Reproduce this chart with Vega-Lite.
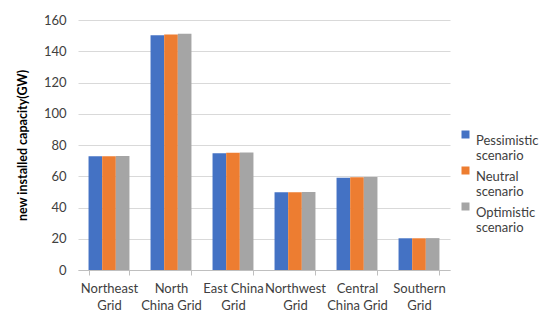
{
  "$schema": "https://vega.github.io/schema/vega-lite/v6.json",
  "autosize": "none",
  "width": 372,
  "height": 250,
  "padding": {"left": 78, "top": 20, "right": 100, "bottom": 62},
  "background": "white",
  "config": {
    "font": "Lato",
    "view": {"stroke": null}
  },
  "data": {
    "values": [
      {"grid": "Northeast Grid", "scenario": "Pessimistic scenario", "value": 72.8},
      {"grid": "Northeast Grid", "scenario": "Neutral scenario", "value": 72.8},
      {"grid": "Northeast Grid", "scenario": "Optimistic scenario", "value": 72.9},
      {"grid": "North China Grid", "scenario": "Pessimistic scenario", "value": 150.2},
      {"grid": "North China Grid", "scenario": "Neutral scenario", "value": 150.7},
      {"grid": "North China Grid", "scenario": "Optimistic scenario", "value": 151.2},
      {"grid": "East China Grid", "scenario": "Pessimistic scenario", "value": 74.7},
      {"grid": "East China Grid", "scenario": "Neutral scenario", "value": 75.1},
      {"grid": "East China Grid", "scenario": "Optimistic scenario", "value": 75.2},
      {"grid": "Northwest Grid", "scenario": "Pessimistic scenario", "value": 49.8},
      {"grid": "Northwest Grid", "scenario": "Neutral scenario", "value": 49.8},
      {"grid": "Northwest Grid", "scenario": "Optimistic scenario", "value": 49.9},
      {"grid": "Central China Grid", "scenario": "Pessimistic scenario", "value": 59.1},
      {"grid": "Central China Grid", "scenario": "Neutral scenario", "value": 59.3},
      {"grid": "Central China Grid", "scenario": "Optimistic scenario", "value": 59.6},
      {"grid": "Southern Grid", "scenario": "Pessimistic scenario", "value": 20.3},
      {"grid": "Southern Grid", "scenario": "Neutral scenario", "value": 20.3},
      {"grid": "Southern Grid", "scenario": "Optimistic scenario", "value": 20.4}
    ]
  },
  "mark": {"type": "bar"},
  "encoding": {
    "x": {
      "field": "grid",
      "type": "nominal",
      "sort": null,
      "scale": {"paddingInner": 0.34, "paddingOuter": 0.17},
      "axis": {
        "title": null,
        "labelAngle": 0,
        "labelFontSize": 13,
        "labelColor": "#404040",
        "labelPadding": 7,
        "labelLineHeight": 17,
        "labelBaseline": "top",
        "tickBand": "extent",
        "tickColor": "#bfbfbf",
        "tickSize": 5,
        "domainColor": "#bfbfbf",
        "labelExpr": "indexof(datum.label,'China Grid')>0 && indexof(datum.label,'East')<0 ? [substring(datum.label,0,indexof(datum.label,' ')), substring(datum.label,indexof(datum.label,' ')+1)] : [substring(datum.label,0,lastindexof(datum.label,' ')), substring(datum.label,lastindexof(datum.label,' ')+1)]"
      }
    },
    "xOffset": {"field": "scenario", "type": "nominal", "sort": ["Pessimistic scenario", "Neutral scenario", "Optimistic scenario"], "scale": {"paddingInner": 0, "paddingOuter": 0}},
    "y": {
      "field": "value",
      "type": "quantitative",
      "scale": {"domain": [0, 160]},
      "axis": {
        "title": "new installed capacity(GW)",
        "titleFontSize": 12.5,
        "titleFontWeight": "bold",
        "titleColor": "#000000",
        "titlePadding": 14,
        "values": [0, 20, 40, 60, 80, 100, 120, 140, 160],
        "labelOverlap": false,
        "labelFontSize": 13,
        "labelColor": "#404040",
        "labelPadding": 12,
        "ticks": false,
        "domain": false,
        "gridColor": "#d9d9d9"
      }
    },
    "color": {
      "field": "scenario",
      "type": "nominal",
      "sort": ["Pessimistic scenario", "Neutral scenario", "Optimistic scenario"],
      "scale": {"range": ["#4472C4", "#ED7D31", "#A5A5A5"]},
      "legend": {
        "title": null,
        "orient": "none",
        "legendX": 381,
        "legendY": 108,
        "symbolType": "square",
        "symbolSize": 64,
        "symbolStrokeWidth": 0,
        "labelFontSize": 13,
        "labelColor": "#404040",
        "labelLineHeight": 17.5,
        "labelBaseline": "top",
        "labelOffset": 4,
        "rowPadding": 1,
        "labelExpr": "split(datum.label, ' ')"
      }
    }
  }
}
